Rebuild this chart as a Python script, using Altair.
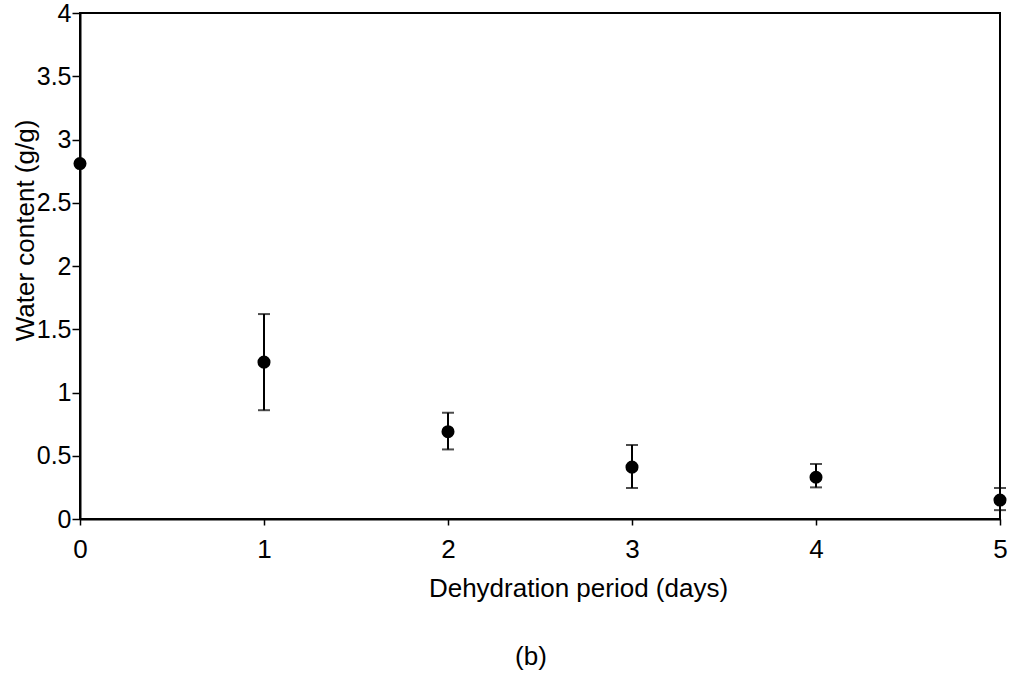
import altair as alt
import pandas as pd

days = [0, 1, 2, 3, 4, 5]
water = [2.81, 1.24, 0.69, 0.41, 0.33, 0.15]
err_low = [2.81, 0.86, 0.55, 0.245, 0.25, 0.07]
err_high = [2.81, 1.62, 0.84, 0.585, 0.435, 0.245]

df = pd.DataFrame({"day": days, "water": water, "lo": err_low, "hi": err_high})
df_err = df[df["day"] > 0]

FONT = "Liberation Sans"
x = alt.X("day:Q", scale=alt.Scale(domain=[0, 5], nice=False, zero=False),
          axis=alt.Axis(title="Dehydration period (days)", values=[0, 1, 2, 3, 4, 5],
                        format="d", titleX=498, titleY=56, labelFontSize=26,
                        labelPadding=11, tickSize=6, labelFlush=False, labelOverlap=False))
y_axis = alt.Axis(title="Water content (g/g)", values=[0, 0.5, 1, 1.5, 2, 2.5, 3, 3.5, 4],
                  format="~g", titleX=-42, titleY=217, labelFontSize=25, labelPadding=1,
                  tickSize=8, labelFlush=False, labelOverlap=False)
yscale = alt.Scale(domain=[0, 4], nice=False)
y = alt.Y("water:Q", scale=yscale, axis=y_axis)

points = alt.Chart(df).mark_point(filled=True, color="black", size=170, opacity=1).encode(x=x, y=y)
rules = alt.Chart(df_err).mark_rule(color="black", strokeWidth=2).encode(
    x=x, y=alt.Y("lo:Q", scale=yscale, axis=y_axis), y2="hi:Q")
cap_hi = alt.Chart(df_err).mark_tick(color="black", orient="horizontal", size=12, thickness=2).encode(
    x=x, y=alt.Y("hi:Q", scale=yscale, axis=y_axis))
cap_lo = alt.Chart(df_err).mark_tick(color="black", orient="horizontal", size=12, thickness=2).encode(
    x=x, y=alt.Y("lo:Q", scale=yscale, axis=y_axis))
caption = alt.Chart(pd.DataFrame({"t": ["(b)"]})).mark_text(
    font=FONT, fontSize=26, color="black", align="center", baseline="middle").encode(
    text="t:N", x=alt.value(451), y=alt.value(644))

chart = alt.layer(points, rules, cap_hi, cap_lo, caption).properties(
    width=920, height=506,
    autosize=alt.AutoSizeParams(type="none"),
    padding={"left": 80, "top": 13, "right": 13, "bottom": 157},
    background="white",
).configure_view(stroke="black", strokeWidth=2).configure_axis(
    grid=False, domain=True, domainColor="black", domainWidth=2,
    tickColor="black", tickWidth=1.5,
    labelFont=FONT, labelColor="black",
    titleFontSize=26, titleFont=FONT, titleFontWeight="normal", titleColor="black",
)

chart.save("out.html", embed_options={"renderer": "svg", "actions": False})
